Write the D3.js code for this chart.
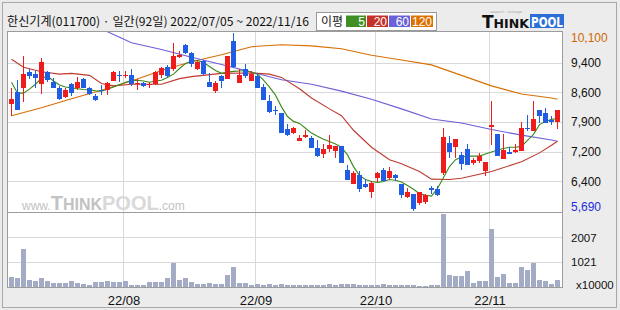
<!DOCTYPE html>
<html>
<head>
<meta charset="utf-8">
<script src="https://cdn.jsdelivr.net/npm/d3@7"></script>
<style>
  body { margin: 0; background: #fff; }
  svg { display: block; }
</style>
</head>
<body>
<svg id="chart" width="620" height="310"></svg>
<script>
// daily candles, 2022/07/05 ~ 2022/11/16 (92 trading days)
var opens  = [8350,8650,8730,9130,9080,8840,9130,8890,8740,8520,8830,8740,8950,8740,8540,8700,8680,8920,9060,9050,
              9070,8840,8870,8830,8830,9050,9270,9220,9510,9800,9600,9220,9410,8890,8660,9030,8960,9900,8870,9220,
              8920,9030,8760,8420,8200,8130,7730,7620,7430,7540,7500,7260,7100,7220,7180,7300,6710,6370,6570,6370,
              6150,6500,6710,6500,6580,6350,6040,6100,5890,5920,6250,6230,6630,7380,7280,7080,7230,6880,6930,6670,
              7770,7610,6990,7150,7150,7180,7750,7660,8180,8130,7950,7890];
var highs  = [8730,8930,9520,9200,9170,9490,9170,8990,8790,8730,8870,9000,8990,8770,8600,8810,8890,9170,9170,9170,
              9220,8970,8890,8890,9170,9270,9310,9840,9650,9830,9620,9440,9440,9110,8910,9050,9520,10100,9220,9330,
              9170,9110,8830,8570,8300,8130,7840,7770,7570,7690,7540,7450,7350,7570,7300,7300,6840,6670,6670,6490,
              6430,6650,6760,6770,6610,6350,6270,6100,6160,6120,6310,6310,7740,7540,7480,7160,7340,7000,7120,6910,
              8420,7610,7590,7280,7340,7890,8080,8420,8200,8240,8050,8200];
var lows   = [8040,8180,8400,8960,8740,8600,8890,8740,8440,8490,8540,8700,8730,8560,8420,8570,8570,8910,8890,8990,
              8790,8680,8760,8730,8810,8990,8990,9150,9470,9570,9250,9190,9070,8760,8620,8730,8960,9230,8870,8990,
              8920,8730,8440,8130,8080,7620,7540,7610,7430,7500,7240,7040,7010,7160,7010,6890,6450,6350,6150,6270,
              6020,6400,6430,6470,6430,6020,6000,5690,5840,5860,6100,6060,6590,7010,7010,6710,6840,6840,6890,6550,
              7320,7060,6990,7100,7130,7180,7670,7660,7870,7870,7810,7710];
var closes = [8460,8180,9080,9030,8990,9370,8930,8740,8460,8690,8620,8880,8740,8580,8440,8660,8850,9130,9030,9070,
              8830,8870,8790,8840,9130,9230,9030,9520,9560,9600,9330,9390,9080,8760,8870,8920,9520,9250,9050,9030,
              9080,8730,8440,8150,8180,7620,7570,7750,7500,7570,7260,7060,7230,7320,7300,6890,6450,6630,6240,6290,
              6390,6620,6430,6690,6500,6090,6160,5740,6150,6090,6210,6080,7520,7160,7480,6860,6840,6960,7060,6910,
              7810,7060,7200,7110,7200,7740,7710,7960,8050,7880,7890,8180];
// volume, x10000
var volumes = [420,378,1540,284,257,365,257,176,176,176,257,162,122,81,216,216,243,216,190,257,
               81,81,81,216,216,216,365,985,284,365,216,135,135,162,135,135,500,810,176,176,
               95,122,81,122,81,122,95,81,81,81,81,81,81,122,81,122,122,122,95,81,
               81,81,122,81,81,81,81,81,41,41,81,81,2960,486,446,446,650,176,230,243,
               2350,405,527,150,176,810,690,985,284,243,135,284];

// moving averages (day index, price)
var ma5 = [8880,8610,8610,8710,8830,8980,9030,8910,8810,8760,8740,8720,8700,8690,8670,8660,8710,8760,8820,8880,
           8920,8930,8910,8880,8910,8930,9000,9080,9220,9340,9410,9420,9370,9270,9170,9100,9130,9150,9160,9170,
           9130,9080,8930,8760,8560,8270,8030,7910,7860,7740,7620,7540,7470,7410,7350,7270,7080,6790,6570,6470,
           6420,6400,6420,6470,6450,6410,6320,6230,6120,6080,6060,6250,6520,6790,6960,7030,7050,7050,7050,7100,
           7150,7200,7240,7270,7270,7290,7440,7590,7830,7910,7960,7980];
var ma20Days = [0,2,5,8,10,13,15,17,20,25,28,30,35,40,43,45,48,50,53,55,57,60,63,65,68,70,73,75,80,85,88,90,91];
var ma20Vals = [9450,9250,9140,9080,9100,9050,8850,8790,8830,8830,8970,9020,9100,9110,9080,9000,8720,8490,8220,8050,7690,
                7270,6960,6860,6670,6480,6470,6500,6670,6910,7130,7320,7420];
var ma60Days = [15,20,25,30,35,40,45,50,55,60,65,70,75,80,85,90,91];
var ma60Vals = [10200,9860,9690,9500,9320,9130,8940,8830,8660,8460,8220,7970,7870,7710,7570,7450,7420];
var ma120Days = [0,5,10,15,20,25,30,35,40,45,50,55,60,65,70,75,80,85,90,91];
var ma120Vals = [8050,8250,8470,8680,8910,9170,9390,9560,9760,9810,9780,9710,9550,9430,9310,9050,8790,8590,8490,8460];

var priceMax = 10100, priceMin = 5690;
var priceLabels = ["10,100", "9,400", "8,600", "7,900", "7,200", "6,400", "5,690"];
var volMax = 3000;
var volTicks = [2007, 1021];
var monthIdx = [19, 41, 61, 80];
var monthLabels = ["22/08", "22/09", "22/10", "22/11"];

var svg = d3.select("#chart");
var box = {left: 7, right: 562, top: 31, mid: 212, bottom: 287};

var x = d3.scaleLinear().domain([0, closes.length - 1]).range([11, 557]);
var y = d3.scaleLinear().domain([priceMin, priceMax]).range([211, 33]);
var yv = d3.scaleLinear().domain([0, volMax]).range([287, 213]);

var upColor = "#f01c1c", downColor = "#1f5de2";
var gridColor = "#d9d9d9";
var axisFont = "'Liberation Sans', Arial, sans-serif";
var krFont = "'Noto Sans CJK KR', sans-serif";

// frame
svg.append("rect").attr("width", 620).attr("height", 310).attr("fill", "#ebebeb");
svg.append("rect").attr("x", 2.5).attr("y", 2.5).attr("width", 614).attr("height", 305)
  .attr("fill", "#ececec").attr("stroke", "#a8a8a8");
svg.append("rect").attr("x", box.left + 0.5).attr("y", box.top + 0.5)
  .attr("width", box.right - box.left).attr("height", box.bottom - box.top)
  .attr("fill", "#fff").attr("stroke", "#9c9c9c");

// title
svg.append("text")
  .attr("x", 7).attr("y", 26)
  .attr("font-family", krFont).attr("font-size", 12)
  .attr("textLength", 302).attr("lengthAdjust", "spacingAndGlyphs")
  .attr("fill", "#111")
  .text("한신기계(011700) · 일간(92일) 2022/07/05 ~ 2022/11/16");

// legend
var legend = svg.append("g");
legend.append("rect").attr("x", 316.5).attr("y", 12.5).attr("width", 120).attr("height", 18)
  .attr("fill", "#fff").attr("stroke", "#9a9a9a");
legend.append("text").attr("x", 321).attr("y", 26)
  .attr("font-family", krFont).attr("font-size", 12).attr("fill", "#111")
  .attr("textLength", 22).attr("lengthAdjust", "spacingAndGlyphs")
  .text("이평");
var legendItems = [
  {label: "5", color: "#3f8f25", x: 346, w: 20},
  {label: "20", color: "#c6322a", x: 367, w: 21},
  {label: "60", color: "#6a62d8", x: 389, w: 21},
  {label: "120", color: "#de7000", x: 411, w: 22}
];
legend.selectAll(".lg").data(legendItems).enter().append("rect")
  .attr("x", function(d) { return d.x; }).attr("y", 15.5)
  .attr("width", function(d) { return d.w; }).attr("height", 11.5)
  .attr("fill", function(d) { return d.color; });
legend.selectAll(".lt").data(legendItems).enter().append("text")
  .attr("x", function(d) { return d.x + d.w - 1; }).attr("y", 25.5)
  .attr("text-anchor", "end")
  .attr("font-family", axisFont).attr("font-size", 12)
  .attr("fill", "#fff")
  .text(function(d) { return d.label; });

// top right logo
var logo = svg.append("g").attr("font-family", "'DejaVu Sans', sans-serif").attr("font-weight", "bold");
var lt = logo.append("text").attr("x", 482).attr("y", 28).attr("fill", "#111")
  .attr("textLength", 47).attr("lengthAdjust", "spacingAndGlyphs");
lt.append("tspan").attr("font-size", 17).text("T");
lt.append("tspan").attr("font-size", 12.5).text("HINK");
logo.append("rect").attr("x", 530).attr("y", 14).attr("width", 34).attr("height", 14).attr("fill", "#2b6fd6");
logo.append("text").attr("x", 531).attr("y", 27).attr("font-size", 14.5).attr("fill", "#fff")
  .attr("textLength", 32).attr("lengthAdjust", "spacingAndGlyphs").text("POOL");
logo.append("text").attr("x", 490).attr("y", 13).attr("font-size", 3.5).attr("font-weight", "normal")
  .attr("textLength", 32).attr("lengthAdjust", "spacingAndGlyphs")
  .attr("fill", "#aaa").text("research · leverage");

// grid
var grid = svg.append("g").attr("stroke", gridColor).attr("shape-rendering", "crispEdges");
var gridVals = d3.range(1, priceLabels.length - 1).map(function(k) {
  return priceMax - k * (priceMax - priceMin) / (priceLabels.length - 1);
});
grid.selectAll(".hg").data(gridVals).enter().append("line")
  .attr("x1", box.left + 1).attr("x2", box.right)
  .attr("y1", function(d) { return Math.round(y(d)) + 0.5; })
  .attr("y2", function(d) { return Math.round(y(d)) + 0.5; });
grid.selectAll(".vg").data(volTicks).enter().append("line")
  .attr("x1", box.left + 1).attr("x2", box.right)
  .attr("y1", function(d) { return Math.round(yv(d)) + 0.5; })
  .attr("y2", function(d) { return Math.round(yv(d)) + 0.5; });
grid.selectAll(".mg").data(monthIdx).enter().append("line")
  .attr("x1", function(d) { return x(d) - 2 + 0.5; })
  .attr("x2", function(d) { return x(d) - 2 + 0.5; })
  .attr("y1", box.top + 1).attr("y2", box.bottom);

// panel divider
svg.append("line").attr("x1", box.left).attr("x2", box.right + 1)
  .attr("y1", box.mid + 0.5).attr("y2", box.mid + 0.5)
  .attr("stroke", "#9c9c9c");

// watermark
var wm = svg.append("text").attr("x", 22).attr("y", 210)
  .attr("font-family", axisFont).attr("fill", "#c2c2c2");
wm.append("tspan").attr("font-size", 12).text("www.");
wm.append("tspan").attr("font-size", 20).attr("font-weight", "bold").text("T");
wm.append("tspan").attr("font-size", 16).attr("font-weight", "bold").text("HINK");
wm.append("tspan").attr("font-size", 20).attr("font-weight", "bold").attr("fill", "#d9d9d9").text("POOL");
wm.append("tspan").attr("font-size", 12).text(".com");

// clip for price panel
svg.append("clipPath").attr("id", "pclip").append("rect")
  .attr("x", box.left + 1).attr("y", box.top + 1)
  .attr("width", box.right - box.left - 1).attr("height", box.mid - box.top - 1);

var price = svg.append("g").attr("clip-path", "url(#pclip)");

// moving averages
var line = d3.line()
  .x(function(d) { return x(d[0]) + 0.5; })
  .y(function(d) { return y(d[1]); });
var maSeries = [
  {days: ma120Days, vals: ma120Vals, color: "#d86f00"},
  {days: ma60Days, vals: ma60Vals, color: "#6b5fd8"},
  {days: ma20Days, vals: ma20Vals, color: "#be3a2e"},
  {days: d3.range(ma5.length), vals: ma5, color: "#3a8a1c"}
];
price.selectAll(".ma").data(maSeries).enter().append("path")
  .attr("fill", "none")
  .attr("stroke", function(d) { return d.color; })
  .attr("stroke-width", 1.1)
  .attr("d", function(d) { return line(d.days.map(function(t, k) { return [t, d.vals[k]]; })); });

// candles
var candles = closes.map(function(c, i) {
  return {i: i, o: opens[i], h: highs[i], l: lows[i], c: c};
});
var cg = price.selectAll(".candle").data(candles).enter().append("g")
  .attr("shape-rendering", "crispEdges");
cg.append("line")
  .attr("x1", function(d) { return Math.round(x(d.i)) + 0.5; })
  .attr("x2", function(d) { return Math.round(x(d.i)) + 0.5; })
  .attr("y1", function(d) { return y(d.h); })
  .attr("y2", function(d) { return y(d.l); })
  .attr("stroke", function(d) { return d.c >= d.o ? upColor : downColor; });
cg.append("rect")
  .attr("x", function(d) { return Math.round(x(d.i)) - 2; })
  .attr("y", function(d) { return y(Math.max(d.o, d.c)); })
  .attr("width", 5)
  .attr("height", function(d) { return Math.max(1.5, Math.abs(y(d.o) - y(d.c))); })
  .attr("fill", function(d) { return d.c >= d.o ? upColor : downColor; });

// volume bars
svg.append("g").selectAll("rect").data(volumes).enter().append("rect")
  .attr("shape-rendering", "crispEdges")
  .attr("x", function(d, i) { return Math.round(x(i)) - 2; })
  .attr("y", function(d) { return yv(d); })
  .attr("width", 5)
  .attr("height", function(d) { return yv(0) - yv(d); })
  .attr("fill", "#a3acc4");

// right axis labels
svg.append("g").selectAll("text").data(priceLabels).enter().append("text")
  .attr("x", 571)
  .attr("y", function(d, k) {
    var v = priceMax - k * (priceMax - priceMin) / (priceLabels.length - 1);
    var yy = y(v);
    if (k === 0) yy += 5;
    if (k === priceLabels.length - 1) yy -= 4;
    return yy;
  })
  .attr("dy", "0.36em")
  .attr("font-family", axisFont).attr("font-size", 12)
  .attr("fill", function(d, k) { return k === 0 ? "#d06a00" : (k === priceLabels.length - 1 ? "#1c2fd6" : "#111"); })
  .text(function(d) { return d; });

svg.append("g").selectAll("text").data(volTicks).enter().append("text")
  .attr("x", 571).attr("y", function(d) { return yv(d); }).attr("dy", "0.36em")
  .attr("font-family", axisFont).attr("font-size", 11.5).attr("fill", "#111")
  .text(function(d) { return d; });
svg.append("text").attr("x", 576).attr("y", yv(0)).attr("dy", "0.2em")
  .attr("font-family", axisFont).attr("font-size", 11.5).attr("fill", "#111")
  .text("x10000");

// month axis
var xAxis = d3.axisBottom(x)
  .tickValues(monthIdx)
  .tickSize(0)
  .tickPadding(0)
  .tickFormat(function(d, k) { return monthLabels[k]; });
var ax = svg.append("g").attr("transform", "translate(-1.5," + (box.bottom + 9) + ")").call(xAxis);
ax.select(".domain").remove();
ax.selectAll("text").attr("font-family", axisFont).attr("font-size", 13).attr("fill", "#111");
</script>
</body>
</html>
